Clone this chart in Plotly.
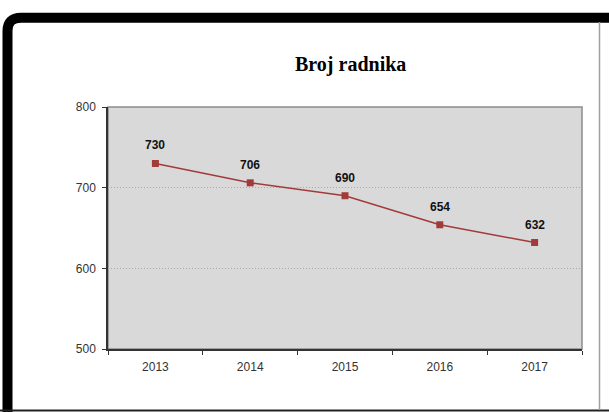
import plotly.graph_objects as go

years = ["2013", "2014", "2015", "2016", "2017"]
workers = [730, 706, 690, 654, 632]
y_ticks = [500, 600, 700, 800]

W, H = 609, 412
L, R, T, B = 108, 582, 107, 349


# pixel -> paper coordinates, for the frame drawn around the chart
def X(px):
    return (px - L) / (R - L)


def Y(py):
    return (B - py) / (B - T)


fig = go.Figure()
fig.add_trace(
    go.Scatter(
        x=years,
        y=workers,
        mode="lines+markers",
        line=dict(color="#A33A3A", width=1.5),
        marker=dict(symbol="square", size=7, color="#A33A3A"),
        showlegend=False,
    )
)

# data labels; category axis, so place them by index
for i, val in enumerate(workers):
    fig.add_annotation(
        x=i, y=val, text="<b>%d</b>" % val, showarrow=False, yshift=18,
        font=dict(family="Liberation Sans", size=12, color="#111111"),
    )

fig.add_annotation(
    xref="paper", yref="paper", x=X(350), y=Y(65), xanchor="center", yanchor="middle",
    text="<b>Broj radnika</b>", showarrow=False,
    font=dict(family="Liberation Serif", size=20, color="#000000"),
)

# plot area border (gray on top/right)
fig.add_shape(
    type="rect", xref="paper", yref="paper", x0=0, y0=0, x1=1, y1=1,
    line=dict(color="#8C8C8C", width=1.5), layer="below",
)
# outer frame
fig.add_shape(
    type="path", xref="paper", yref="paper",
    path="M %f,%f L %f,%f Q %f,%f %f,%f L %f,%f" % (
        X(7.5), Y(415), X(7.5), Y(31), X(7.5), Y(17.7), X(21), Y(17.7), X(612), Y(17.7)
    ),
    line=dict(color="#000000", width=10),
)
fig.add_shape(
    type="line", xref="paper", yref="paper",
    x0=X(0), y0=Y(410.5), x1=X(609), y1=Y(410.5),
    line=dict(color="#222222", width=2),
)
fig.add_shape(
    type="line", xref="paper", yref="paper",
    x0=X(599.5), y0=Y(22), x1=X(599.5), y1=Y(410),
    line=dict(color="#A0A0A0", width=1.5),
)

fig.update_xaxes(
    type="category", range=[-0.5, 4.5], tickson="boundaries",
    ticks="outside", ticklen=4, tickcolor="#333333", ticklabelstandoff=6,
    showline=True, linecolor="#333333", linewidth=1.5,
    showgrid=False, zeroline=False,
    tickfont=dict(family="Liberation Sans", size=12, color="#333333"),
)
fig.update_yaxes(
    range=[500, 800], tickvals=y_ticks,
    ticks="outside", ticklen=4, tickcolor="#333333", ticklabelstandoff=4,
    showline=True, linecolor="#333333", linewidth=1.5,
    showgrid=True, gridcolor="#A8A8A8", griddash="1px,2px", gridwidth=1,
    zeroline=False,
    tickfont=dict(family="Liberation Sans", size=12, color="#333333"),
)
fig.update_layout(
    width=W, height=H, autosize=False,
    margin=dict(l=L, r=W - R, t=T, b=H - B),
    plot_bgcolor="#D9D9D9", paper_bgcolor="#FFFFFF",
)

fig.write_html(
    "out.html",
    config={"displayModeBar": False},
    post_script="document.body.style.margin='0';document.body.style.overflow='hidden';",
)
